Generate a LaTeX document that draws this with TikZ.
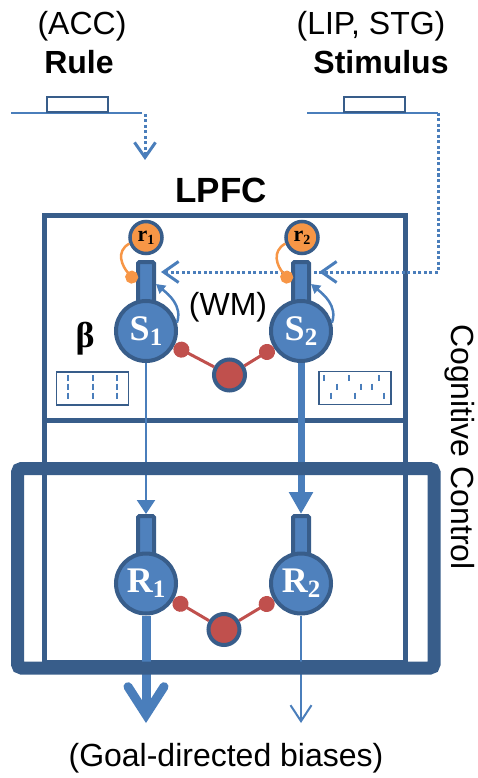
\documentclass[tikz,border=0pt]{standalone}
\usepackage{fontspec}
\setmainfont{Liberation Sans}
\newfontfamily\neuronfont{Liberation Serif}
\usepackage{xcolor}
\usepackage{tikz}
\usetikzlibrary{arrows.meta}
\definecolor{darkblue}{RGB}{56, 93, 138}
\definecolor{midblue}{RGB}{79, 129, 189}
\definecolor{lineblue}{RGB}{74, 126, 187}
\definecolor{inhibred}{RGB}{192, 80, 77}
\definecolor{rateorange}{RGB}{247, 150, 70}
\pgfdeclarelayer{back}
\pgfsetlayers{back,main}

\begin{document}
\begin{tikzpicture}[x=1pt, y=-1pt,
			txt/.style={font=\fontsize{32}{36}\selectfont},
			boldtxt/.style={font=\bfseries\fontsize{32}{36}\selectfont},
			soma/.style={circle, draw=darkblue, fill=midblue, line width=4pt, minimum size=60pt, inner sep=0pt, text=white, font=\neuronfont\bfseries\fontsize{36}{36}\selectfont},
			dendrite/.style={rectangle, draw=darkblue, fill=midblue, line width=4pt, minimum width=16pt, minimum height=44pt, inner sep=0pt, rounded corners=1.5pt},
			ratenode/.style={circle, draw=darkblue, fill=rateorange, line width=3.5pt, minimum size=32pt, inner sep=0pt, font=\neuronfont\bfseries\fontsize{22}{22}\selectfont},
			internode/.style={circle, draw=darkblue, fill=inhibred, line width=4pt, minimum size=31pt, inner sep=0pt},
			raster/.style={rectangle, draw=darkblue, line width=1.3pt, minimum width=72pt, minimum height=33pt, inner sep=0pt},
			pulse/.style={rectangle, draw=darkblue, fill=white, line width=2pt, minimum width=61pt, minimum height=15pt, inner sep=0pt},
			signal/.style={lineblue, line width=2pt},
			input/.style={lineblue, line width=3pt, dash pattern=on 3pt off 2.5pt, -{Straight Barb[length=15pt, width=21pt]}},
			spike/.style={lineblue, line width=2pt},
			recur/.style={lineblue, line width=2.5pt, -{Triangle[length=9pt, width=10pt]}},
			inhib/.style={inhibred, line width=3pt, -{Circle[length=16pt]}},
			ratelink/.style={rateorange, line width=2.5pt, -{Circle[length=13pt]}}
		]
			\useasboundingbox (0,0) rectangle (477,778);
			
			% LABELS
			\node[txt, anchor=base] (accname) at (82, 35) {(ACC)};
			\node[boldtxt, anchor=base] (rulename) at (79, 74) {Rule};
			\node[txt, anchor=base] (lipname) at (371, 35) {(LIP, STG)};
			\node[boldtxt, anchor=base] (stimname) at (381, 74) {Stimulus};
			\node[font=\bfseries\fontsize{35}{40}\selectfont, anchor=base] (lpfcname) at (221, 202) {LPFC};
			\node[txt, anchor=base] (wmname) at (228, 315) {(WM)};
			\node[font=\neuronfont\bfseries\fontsize{36}{36}\selectfont] (betaname) at (85, 339) {β};
			\node[txt, rotate=-90] (ccname) at (460, 447) {Cognitive Control};
			\node[txt, anchor=base] (goalname) at (226, 766) {(Goal-directed biases)};
			
			% LPFC BOX
			\begin{pgfonlayer}{back}
			\draw[darkblue, line width=5pt] (44, 215.5) rectangle (405, 662);
			\draw[darkblue, line width=5pt] (44, 420) -- (405, 420);
			\end{pgfonlayer}
			
			% RULE AND STIMULUS PULSES
			\coordinate (ruleleft) at (11, 113);
			\coordinate (ruleright) at (142, 113);
			\coordinate (rulecue) at (145, 114);
			\coordinate (ruletip) at (145, 160);
			\draw[signal] (ruleleft) -- (ruleright);
			\node[pulse] (rulebox) at (77.5, 105) {};
			\draw[input] (rulecue) -- (ruletip);
			
			\coordinate (stimleft) at (307, 113);
			\coordinate (stimright) at (438, 113);
			\coordinate (stimturn) at (438, 272);
			\draw[signal] (stimleft) -- (stimright);
			\node[pulse] (stimbox) at (374.5, 105) {};
			
			% LPFC NEURONS
			\node[dendrite] (s1d) at (146, 284) {};
			\node[dendrite] (s2d) at (301, 284) {};
			\node[soma] (s1) at (146, 331) {S\raisebox{-5pt}{\fontsize{25}{25}\selectfont 1}};
			\node[soma] (s2) at (301, 331) {S\raisebox{-5pt}{\fontsize{25}{25}\selectfont 2}};
			\node[ratenode] (rate1) at (146, 237.5) {r\raisebox{-3pt}{\fontsize{14}{14}\selectfont 1}};
			\node[ratenode] (rate2) at (302, 237.5) {r\raisebox{-3pt}{\fontsize{14}{14}\selectfont 2}};
			\node[internode] (inter1) at (229.5, 375) {};
			
			% STIMULUS INPUT
			\begin{pgfonlayer}{back}
			\draw[input, shorten >=5pt] (stimright) -- (stimturn) -- (stimturn -| s1d.east);
			\draw[input, shorten >=8pt] (stimright) -- (stimturn) -- (stimturn -| s2d.east);
			\end{pgfonlayer}
			
			% RECURRENCE, RATES, INHIBITION
			\draw[recur] (s1.15) .. controls +(6,-17) and +(12,10) .. (s1d.east);
			\draw[recur] (s2.15) .. controls +(6,-17) and +(12,10) .. (s2d.east);
			\draw[ratelink] (rate1.200) .. controls +(-14,8) and +(-14,-16) .. ([yshift=2pt]s1d.west);
			\draw[ratelink] (rate2.200) .. controls +(-14,8) and +(-14,-16) .. ([yshift=2pt]s2d.west);
			\draw[inhib] (inter1) -- (s1);
			\draw[inhib] (inter1) -- (s2);
			
			% SPIKE RASTERS
			\node[raster] (rasterL) at (92.5, 388.5) {};
			\node[raster] (rasterR) at (355, 388) {};
			\foreach \tx in {68, 93, 117}
				\foreach \ty in {378, 386.5, 395.5}
					\draw[spike] (\tx, \ty-3) -- (\tx, \ty+3);
			\foreach \tx/\ty in {324/378, 349/378, 379/378, 337/386.5, 361/386.5, 372/386.5, 331/395.5, 355/395.5, 384/395.5}
				\draw[spike] (\tx, \ty-3) -- (\tx, \ty+3);
			
			% RESPONSE NEURONS
			\node[dendrite] (resp1d) at (146, 538) {};
			\node[dendrite] (resp2d) at (301, 538) {};
			\node[soma] (resp1) at (146, 583.5) {R\raisebox{-5pt}{\fontsize{25}{25}\selectfont 1}};
			\node[soma] (resp2) at (301, 583.5) {R\raisebox{-5pt}{\fontsize{25}{25}\selectfont 2}};
			\node[internode] (inter2) at (224, 629.5) {};
			\draw[inhib] (inter2) -- (resp1);
			\draw[inhib] (inter2) -- (resp2);
			
			% AXONS
			\draw[lineblue, line width=2.3pt, -{Triangle[length=14pt, width=18pt]}] (s1.south) -- (resp1d.north);
			\draw[lineblue, line width=7pt, -{Triangle[length=22pt, width=23pt]}] (s2.south) -- (resp2d.north);
			
			% OUTPUT
			\coordinate (out1) at (146, 723);
			\draw[lineblue, line width=9pt, -{Straight Barb[length=28pt, width=36pt, line cap=round]}] (resp1.south) -- (out1);
			\draw[lineblue, line width=2pt, -{Straight Barb[length=16pt, width=21pt]}] (resp2.south) -- (resp2.south |- out1);
			
			% COGNITIVE CONTROL BOX
			\draw[darkblue, line width=13pt, rounded corners=4pt] (17.5, 468.5) rectangle (434, 668);
			
		\end{tikzpicture}
\end{document}
